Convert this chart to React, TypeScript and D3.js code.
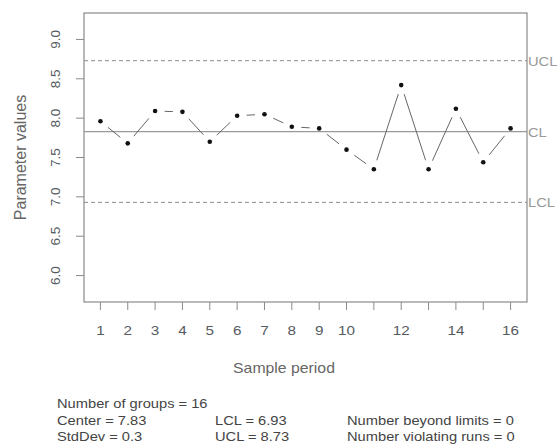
import React from "react";
import * as d3 from "d3";

const samples = [1, 2, 3, 4, 5, 6, 7, 8, 9, 10, 11, 12, 13, 14, 15, 16];
const values = [7.96, 7.68, 8.09, 8.08, 7.7, 8.03, 8.05, 7.89, 7.87, 7.6, 7.35, 8.42, 7.35, 8.12, 7.44, 7.87];
const xTickLabels = ["1", "2", "3", "4", "5", "6", "7", "8", "9", "10", "", "12", "", "14", "", "16"];
const yTicks = [6.0, 6.5, 7.0, 7.5, 8.0, 8.5, 9.0];
const center = 7.83;
const lcl = 6.93;
const ucl = 8.73;
const limitLabels = ["UCL", "CL", "LCL"];
const summaryCol1 = ["Number of groups = 16", "Center = 7.83", "StdDev = 0.3"];
const summaryCol2 = ["", "LCL = 6.93", "UCL = 8.73"];
const summaryCol3 = ["", "Number beyond limits = 0", "Number violating runs = 0"];

const W = 559;
const H = 446;
const left = 84;
const right = 527;
const top = 13;
const bottom = 302;
const SX = 1.13;
const font = "'Liberation Sans', Arial, Helvetica, sans-serif";

export default function App() {
  const x = d3.scaleLinear().domain([0.4, 16.6]).range([left, right]);
  const y = d3.scaleLinear().domain([5.664, 9.336]).range([bottom, top]);

  const pts = samples.map((s, i) => ({ px: x(s), py: y(values[i]) }));
  const gap = 9.5;
  const segs: { x1: number; y1: number; x2: number; y2: number }[] = [];
  for (let i = 0; i < pts.length - 1; i++) {
    const a = pts[i];
    const b = pts[i + 1];
    const dx = b.px - a.px;
    const dy = b.py - a.py;
    const len = Math.hypot(dx, dy);
    if (len <= 2 * gap) continue;
    const ux = dx / len;
    const uy = dy / len;
    segs.push({ x1: a.px + ux * gap, y1: a.py + uy * gap, x2: b.px - ux * gap, y2: b.py - uy * gap });
  }

  const limitVals = [ucl, center, lcl];
  const axisCol = "#8a8a8a";
  const tickTextCol = "#555a60";

  return (
    <svg width={W} height={H} style={{ position: "absolute", left: 0, top: 0, background: "#fff" }} fontFamily={font}>
      <line x1={left} x2={right} y1={y(ucl)} y2={y(ucl)} stroke="#8c8c8c" strokeWidth={1} strokeDasharray="4,3" />
      <line x1={left} x2={right} y1={y(lcl)} y2={y(lcl)} stroke="#8c8c8c" strokeWidth={1} strokeDasharray="4,3" />
      <line x1={left} x2={right} y1={y(center)} y2={y(center)} stroke="#9a9a9a" strokeWidth={1.3} />
      {limitLabels.map((l, i) => (
        <text key={l} transform={`translate(${right + 1},${y(limitVals[i]) + 5}) scale(${SX},1)`} fontSize={13} fill="#999">
          {l}
        </text>
      ))}
      {segs.map((s, i) => (
        <line key={i} x1={s.x1} y1={s.y1} x2={s.x2} y2={s.y2} stroke="#666" strokeWidth={1} />
      ))}
      {pts.map((p, i) => (
        <circle key={i} cx={p.px} cy={p.py} r={2.3} fill="#111" />
      ))}
      <rect x={left} y={top} width={right - left} height={bottom - top} fill="none" stroke={axisCol} strokeWidth={1.2} />
      {samples.map((s, i) => (
        <g key={s}>
          <line x1={x(s)} x2={x(s)} y1={bottom} y2={bottom + 8} stroke={axisCol} strokeWidth={1} />
          {xTickLabels[i] && (
            <text transform={`translate(${x(s)},${bottom + 33}) scale(${SX},1)`} textAnchor="middle" fontSize={13.5} fill={tickTextCol}>
              {xTickLabels[i]}
            </text>
          )}
        </g>
      ))}
      {yTicks.map((t) => (
        <g key={t}>
          <line x1={left - 8} x2={left} y1={y(t)} y2={y(t)} stroke={axisCol} strokeWidth={1} />
          <text transform={`translate(${left - 24},${y(t)}) rotate(-90)`} textAnchor="middle" fontSize={13.5} fill={tickTextCol}>
            {t.toFixed(1)}
          </text>
        </g>
      ))}
      <text transform={`translate(284,373) scale(${SX},1)`} textAnchor="middle" fontSize={14} fill="#666">
        Sample period
      </text>
      <text transform={`translate(26,${(top + bottom) / 2}) rotate(-90)`} textAnchor="middle" fontSize={16} fill="#666">
        Parameter values
      </text>
      {summaryCol1.map((t, i) => (
        <text key={"a" + i} transform={`translate(57,${408 + i * 16.7}) scale(${SX},1)`} fontSize={13} fill="#444">
          {t}
        </text>
      ))}
      {summaryCol2.map((t, i) => (
        <text key={"b" + i} transform={`translate(215,${408 + i * 16.7}) scale(${SX},1)`} fontSize={13} fill="#444">
          {t}
        </text>
      ))}
      {summaryCol3.map((t, i) => (
        <text key={"c" + i} transform={`translate(347,${408 + i * 16.7}) scale(${SX},1)`} fontSize={13} fill="#444">
          {t}
        </text>
      ))}
    </svg>
  );
}
